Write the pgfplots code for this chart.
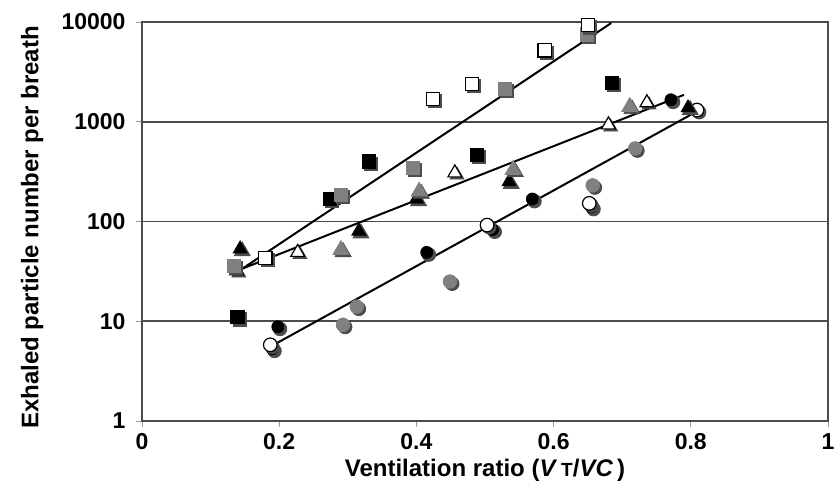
\documentclass[border=0pt]{standalone}
\usepackage{fontspec}
\setmainfont{Liberation Sans}
\usepackage{pgfplots}
\usepackage{pgfplotstable}
\pgfplotsset{compat=1.18}

% squares
\pgfplotstableread{
x y
0.139 11
0.274 170
0.331 400
0.488 465
0.685 2450
}\blacksq
\pgfplotstableread{
x y
0.180 43
0.424 1700
0.481 2400
0.587 5200
0.650 9300
}\opensq
\pgfplotstableread{
x y
0.134 36
0.290 185
0.395 345
0.529 2150
0.648 7500
}\graysq
% triangles
\pgfplotstableread{
x y
0.143 53
0.316 80
0.400 168
0.535 250
0.796 1380
}\blacktri
\pgfplotstableread{
x y
0.138 32
0.227 49
0.456 307
0.680 930
0.736 1550
}\opentri
\pgfplotstableread{
x y
0.290 52
0.404 200
0.541 330
0.711 1410
}\graytri
% circles
\pgfplotstableread{
x y
0.198 8.8
0.190 5.3
0.415 49
0.511 83
0.569 168
0.655 140
0.771 1660
}\blackci
\pgfplotstableread{
x y
0.187 5.8
0.503 92
0.652 152
0.809 1310
}\openci
\pgfplotstableread{
x y
0.293 9.2
0.313 14
0.449 25
0.657 230
0.719 540
}\grayci

\colorlet{markgray}{black!50}
\pgfplotsset{
  shadow/.style={only marks, mark options={fill=black!70, draw=black!70, xshift=1.1pt, yshift=-1.1pt}},
  sq/.style={mark=square*, mark size=3.3pt},
  tri/.style={mark=triangle*, mark size=4.6pt},
  ci/.style={mark=*, mark size=3.4pt},
}

\begin{document}
\begin{tikzpicture}
\begin{axis}[
  name=main,
  scale only axis,
  width=343pt, height=199.5pt,
  xmin=0, xmax=1,
  ymode=log, log basis y=10,
  ymin=1, ymax=10000,
  xtick={0,0.2,0.4,0.6,0.8,1},
  xticklabels={0,0.2,0.4,0.6,0.8,1},
  ytick={1,10,100,1000,10000},
  yticklabels={1,10,100,1000,10000},
  minor ytick={},
  ymajorgrids,
  grid style={black!70, line width=0.8pt},
  axis line style={black!70, line width=0.8pt},
  tick style={black!40, line width=0.4pt},
  tick align=outside,
  major tick length=3pt,
  xtick pos=bottom, ytick pos=left,
  /pgf/number format/assume math mode=true,
  ticklabel style={font=\fontsize{11.5}{13}\selectfont\bfseries},
  yticklabel style={xshift=-1.7pt},
  xticklabel style={yshift=0.2pt},
  xlabel={Ventilation ratio (\textit{V}\,{\fontsize{9.5}{10}\selectfont T}/\textit{VC}\,)},
  ylabel={Exhaled particle number per breath},
  label style={font=\fontsize{12}{14}\selectfont\bfseries},
  xlabel style={at={(axis description cs:0.5,-0.1228)}, anchor=center},
  ylabel style={at={(axis description cs:-0.160,0.485)}, anchor=center},
  clip=false,
]
% regression lines
\addplot[black, line width=1pt] coordinates {(0.136,30.2) (0.684,9770)};
\addplot[black, line width=1pt] coordinates {(0.136,31.6) (0.79,1860)};
\addplot[black, line width=1pt] coordinates {(0.191,5.75) (0.80,1175)};
% circles
\addplot[shadow, ci] table {\blackci};
\addplot[only marks, ci, mark size=3pt, mark options={fill=black, draw=black}] table {\blackci};
\addplot[shadow, ci] table {\grayci};
\addplot[only marks, ci, mark options={fill=markgray, draw=markgray}] table {\grayci};
\addplot[shadow, ci] table {\openci};
\addplot[only marks, ci, mark options={fill=white, draw=black, line width=0.6pt}] table {\openci};
% triangles
\addplot[shadow, tri] table {\blacktri};
\addplot[only marks, tri, mark size=4pt, mark options={fill=black, draw=black}] table {\blacktri};
\addplot[shadow, tri] table {\graytri};
\addplot[only marks, tri, mark options={fill=markgray, draw=markgray}] table {\graytri};
\addplot[shadow, tri, mark size=4pt] table {\opentri};
\addplot[only marks, tri, mark size=4pt, mark options={fill=white, draw=black, line width=0.6pt}] table {\opentri};
% squares
\addplot[shadow, sq] table {\blacksq};
\addplot[only marks, sq, mark options={fill=black, draw=black}] table {\blacksq};
\addplot[shadow, sq] table {\graysq};
\addplot[only marks, sq, mark options={fill=markgray, draw=markgray}] table {\graysq};
\addplot[shadow, sq] table {\opensq};
\addplot[only marks, sq, mark options={fill=white, draw=black, line width=0.6pt}] table {\opensq};
\end{axis}
\pgfresetboundingbox
\path[use as bounding box] ([xshift=-71pt, yshift=-32pt]main.south west) rectangle ([xshift=4.5pt, yshift=11pt]main.north east);
\end{tikzpicture}
\end{document}
